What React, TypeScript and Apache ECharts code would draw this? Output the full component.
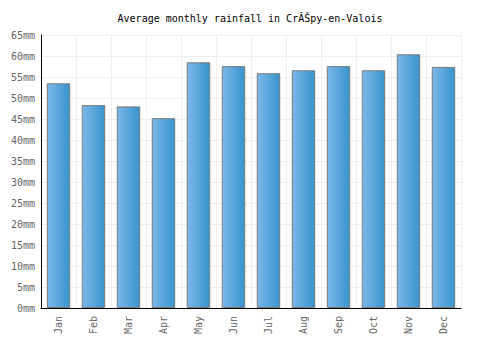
import React, { useEffect, useRef } from "react";
import * as echarts from "echarts";

const title = "Average monthly rainfall in CrĂŠpy-en-Valois";
const months = ["Jan", "Feb", "Mar", "Apr", "May", "Jun", "Jul", "Aug", "Sep", "Oct", "Nov", "Dec"];
const rainfall = [53.5, 48.3, 48.0, 45.2, 58.5, 57.6, 55.9, 56.6, 57.6, 56.6, 60.4, 57.4];

const FONT = "DejaVu Sans Mono";

export default function App() {
  const ref = useRef<HTMLDivElement>(null);
  useEffect(() => {
    if (!ref.current) return;
    const chart = echarts.init(ref.current, undefined, { renderer: "svg" });
    chart.setOption({
      animation: false,
      title: {
        text: title,
        left: "center",
        top: 8,
        textStyle: { fontFamily: FONT, fontSize: 10, fontWeight: "normal", color: "#000" },
      },
      grid: { left: 41, right: 39, top: 35, bottom: 42, containLabel: false },
      xAxis: {
        type: "category",
        data: months,
        axisLine: { lineStyle: { color: "#000", width: 1 } },
        axisTick: { show: false },
        axisLabel: { rotate: 90, color: "#666", fontFamily: FONT, fontSize: 10, margin: 8 },
        splitLine: { show: true, lineStyle: { color: "#eeeeee" } },
      },
      yAxis: {
        type: "value",
        min: 0,
        max: 65,
        interval: 5,
        axisLine: { show: true, lineStyle: { color: "#000", width: 1 } },
        axisTick: { show: false },
        axisLabel: { formatter: "{value}mm", color: "#666", fontFamily: FONT, fontSize: 10, margin: 6 },
        splitLine: { show: true, lineStyle: { color: "#eeeeee" } },
      },
      series: [
        {
          type: "bar",
          data: rainfall,
          barWidth: "67%",
          itemStyle: {
            color: new echarts.graphic.LinearGradient(0, 0, 1, 0, [
              { offset: 0, color: "#7db7ea" },
              { offset: 1, color: "#3794cc" },
            ]),
            borderColor: "#7a7a7a",
            borderWidth: 1,
          },
        },
      ],
    });
    return () => chart.dispose();
  }, []);
  return <div ref={ref} style={{ width: 500, height: 350, position: "absolute", left: 0, top: 0 }} />;
}
